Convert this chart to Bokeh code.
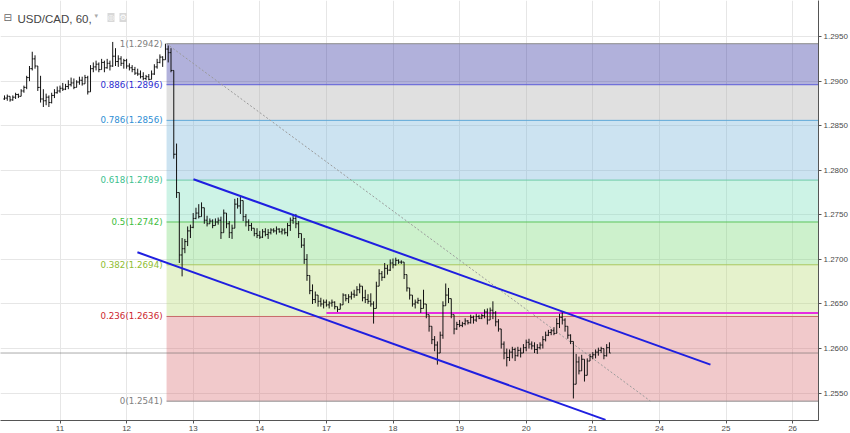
from bokeh.plotting import figure
from bokeh.models import Range1d, FixedTicker, Label, NumeralTickFormatter
from bokeh.core.properties import value
from bokeh.embed import file_html
from bokeh.resources import INLINE

# ---------------- data ----------------
DAY_LABELS = ["11", "12", "13", "14", "17", "18", "19", "20", "21", "24", "25", "26"]
PRICE_TICKS = [1.2550, 1.2600, 1.2650, 1.2700, 1.2750, 1.2800, 1.2850, 1.2900, 1.2950]

FIRST_HOUR = -20          # hourly bars, hour 0 = start of day "11"
OPEN0 = 1.2880

HIGH = [
    1.2884, 1.2885, 1.2883, 1.2884, 1.2887, 1.2886, 1.2891, 1.2895, 1.2906, 1.2917,
    1.2933, 1.2929, 1.2916, 1.2906, 1.2891, 1.2886, 1.2884, 1.2887, 1.2891, 1.2894,
    1.2895, 1.2898, 1.2897, 1.2901, 1.2904, 1.2903, 1.2901, 1.2905, 1.2905, 1.2907,
    1.2906, 1.2918, 1.2921, 1.2923, 1.2921, 1.2925, 1.2923, 1.2925, 1.2923, 1.2944,
    1.2937, 1.2929, 1.2928, 1.2925, 1.2925, 1.2920, 1.2918, 1.2916, 1.2914, 1.2912,
    1.2910, 1.2907, 1.2908, 1.2912, 1.2919, 1.2925, 1.2930, 1.2928, 1.2942, 1.2940,
    1.2937, 1.2903, 1.2830, 1.2769, 1.2724, 1.2723, 1.2737, 1.2739, 1.2752, 1.2758,
    1.2762, 1.2764, 1.2751, 1.2749, 1.2746, 1.2745, 1.2746, 1.2747, 1.2748, 1.2756,
    1.2751, 1.2743, 1.2739, 1.2768, 1.2769, 1.2770, 1.2758, 1.2751, 1.2745, 1.2741,
    1.2735, 1.2735, 1.2732, 1.2734, 1.2735, 1.2734, 1.2735, 1.2735, 1.2737, 1.2735,
    1.2735, 1.2735, 1.2741, 1.2747, 1.2751, 1.2751, 1.2743, 1.2728, 1.2724, 1.2706,
    1.2679, 1.2672, 1.2664, 1.2659, 1.2657, 1.2655, 1.2655, 1.2653, 1.2655, 1.2653,
    1.2647, 1.2651, 1.2662, 1.2661, 1.2661, 1.2664, 1.2666, 1.2670, 1.2673, 1.2664,
    1.2666, 1.2661, 1.2662, 1.2653, 1.2675, 1.2689, 1.2687, 1.2696, 1.2694, 1.2700,
    1.2701, 1.2702, 1.2700, 1.2699, 1.2696, 1.2679, 1.2666, 1.2655, 1.2655, 1.2657,
    1.2655, 1.2666, 1.2647, 1.2636, 1.2625, 1.2614, 1.2608, 1.2619, 1.2653, 1.2673,
    1.2668, 1.2656, 1.2636, 1.2630, 1.2632, 1.2630, 1.2634, 1.2632, 1.2638, 1.2637,
    1.2639, 1.2638, 1.2639, 1.2644, 1.2645, 1.2646, 1.2653, 1.2642, 1.2633, 1.2621,
    1.2608, 1.2600, 1.2599, 1.2602, 1.2601, 1.2602, 1.2601, 1.2605, 1.2610, 1.2611,
    1.2608, 1.2607, 1.2605, 1.2607, 1.2614, 1.2619, 1.2621, 1.2622, 1.2624, 1.2634,
    1.2639, 1.2642, 1.2634, 1.2623, 1.2616, 1.2608, 1.2594, 1.2591, 1.2593, 1.2588,
    1.2589, 1.2594, 1.2596, 1.2599, 1.2601, 1.2602, 1.2600, 1.2605, 1.2607,
]
LOW = [
    1.2879, 1.2878, 1.2877, 1.2878, 1.2880, 1.2881, 1.2884, 1.2887, 1.2891, 1.2900,
    1.2912, 1.2914, 1.2889, 1.2876, 1.2871, 1.2873, 1.2871, 1.2875, 1.2881, 1.2886,
    1.2887, 1.2889, 1.2890, 1.2891, 1.2894, 1.2891, 1.2893, 1.2896, 1.2895, 1.2898,
    1.2885, 1.2889, 1.2910, 1.2912, 1.2910, 1.2914, 1.2910, 1.2914, 1.2912, 1.2916,
    1.2917, 1.2916, 1.2917, 1.2914, 1.2914, 1.2912, 1.2910, 1.2907, 1.2906, 1.2903,
    1.2901, 1.2901, 1.2901, 1.2902, 1.2907, 1.2914, 1.2920, 1.2916, 1.2925, 1.2921,
    1.2910, 1.2813, 1.2769, 1.2696, 1.2681, 1.2707, 1.2715, 1.2724, 1.2735, 1.2745,
    1.2746, 1.2749, 1.2740, 1.2737, 1.2740, 1.2735, 1.2740, 1.2739, 1.2723, 1.2730,
    1.2735, 1.2724, 1.2723, 1.2746, 1.2757, 1.2751, 1.2743, 1.2737, 1.2732, 1.2732,
    1.2726, 1.2724, 1.2723, 1.2724, 1.2726, 1.2723, 1.2728, 1.2730, 1.2728, 1.2730,
    1.2728, 1.2728, 1.2726, 1.2732, 1.2740, 1.2735, 1.2724, 1.2713, 1.2695, 1.2676,
    1.2661, 1.2650, 1.2651, 1.2647, 1.2647, 1.2645, 1.2647, 1.2645, 1.2647, 1.2644,
    1.2641, 1.2644, 1.2650, 1.2653, 1.2651, 1.2655, 1.2657, 1.2659, 1.2662, 1.2653,
    1.2651, 1.2650, 1.2647, 1.2628, 1.2655, 1.2672, 1.2676, 1.2679, 1.2683, 1.2687,
    1.2690, 1.2693, 1.2695, 1.2695, 1.2678, 1.2664, 1.2655, 1.2647, 1.2645, 1.2650,
    1.2640, 1.2645, 1.2634, 1.2619, 1.2605, 1.2597, 1.2582, 1.2600, 1.2611, 1.2653,
    1.2651, 1.2634, 1.2616, 1.2621, 1.2624, 1.2624, 1.2626, 1.2627, 1.2628, 1.2628,
    1.2630, 1.2633, 1.2633, 1.2634, 1.2627, 1.2634, 1.2633, 1.2625, 1.2619, 1.2600,
    1.2588, 1.2580, 1.2586, 1.2589, 1.2586, 1.2591, 1.2590, 1.2595, 1.2597, 1.2600,
    1.2599, 1.2595, 1.2594, 1.2599, 1.2600, 1.2608, 1.2614, 1.2615, 1.2615, 1.2619,
    1.2623, 1.2627, 1.2619, 1.2611, 1.2605, 1.2544, 1.2563, 1.2571, 1.2582, 1.2563,
    1.2572, 1.2586, 1.2588, 1.2589, 1.2592, 1.2595, 1.2588, 1.2591, 1.2595,
]
CLOSE = [
    1.2881, 1.2883, 1.2879, 1.2882, 1.2885, 1.2883, 1.2889, 1.2893, 1.2904, 1.2914,
    1.2925, 1.2917, 1.2893, 1.2880, 1.2878, 1.2882, 1.2876, 1.2884, 1.2887, 1.2889,
    1.2892, 1.2891, 1.2894, 1.2896, 1.2898, 1.2893, 1.2899, 1.2901, 1.2897, 1.2904,
    1.2888, 1.2914, 1.2916, 1.2919, 1.2913, 1.2921, 1.2915, 1.2920, 1.2917, 1.2928,
    1.2922, 1.2925, 1.2920, 1.2923, 1.2917, 1.2915, 1.2913, 1.2909, 1.2908, 1.2905,
    1.2903, 1.2905, 1.2902, 1.2908, 1.2916, 1.2921, 1.2927, 1.2924, 1.2936, 1.2932,
    1.2912, 1.2818, 1.2775, 1.2705, 1.2712, 1.2720, 1.2732, 1.2736, 1.2746, 1.2752,
    1.2748, 1.2758, 1.2744, 1.2740, 1.2743, 1.2738, 1.2742, 1.2744, 1.2730, 1.2752,
    1.2740, 1.2730, 1.2735, 1.2762, 1.2760, 1.2766, 1.2748, 1.2742, 1.2738, 1.2735,
    1.2729, 1.2727, 1.2725, 1.2731, 1.2728, 1.2730, 1.2733, 1.2732, 1.2734, 1.2731,
    1.2733, 1.2730, 1.2738, 1.2744, 1.2746, 1.2740, 1.2729, 1.2716, 1.2700, 1.2682,
    1.2665, 1.2655, 1.2660, 1.2653, 1.2650, 1.2652, 1.2649, 1.2651, 1.2652, 1.2647,
    1.2644, 1.2649, 1.2660, 1.2656, 1.2658, 1.2661, 1.2660, 1.2666, 1.2670, 1.2657,
    1.2655, 1.2653, 1.2650, 1.2645, 1.2670, 1.2684, 1.2680, 1.2690, 1.2688, 1.2696,
    1.2694, 1.2699, 1.2697, 1.2697, 1.2683, 1.2668, 1.2660, 1.2650, 1.2652, 1.2654,
    1.2645, 1.2650, 1.2638, 1.2625, 1.2610, 1.2604, 1.2595, 1.2615, 1.2648, 1.2660,
    1.2656, 1.2638, 1.2622, 1.2627, 1.2626, 1.2628, 1.2631, 1.2629, 1.2635, 1.2632,
    1.2636, 1.2634, 1.2637, 1.2641, 1.2632, 1.2643, 1.2640, 1.2630, 1.2622, 1.2605,
    1.2595, 1.2590, 1.2596, 1.2599, 1.2592, 1.2598, 1.2595, 1.2601, 1.2607, 1.2605,
    1.2603, 1.2599, 1.2601, 1.2604, 1.2610, 1.2615, 1.2618, 1.2620, 1.2617, 1.2628,
    1.2635, 1.2632, 1.2625, 1.2615, 1.2608, 1.2560, 1.2585, 1.2575, 1.2588, 1.2570,
    1.2586, 1.2591, 1.2593, 1.2596, 1.2598, 1.2600, 1.2592, 1.2601, 1.2595,
]

FIB_RATIOS = ["1", "0.886", "0.786", "0.618", "0.5", "0.382", "0.236", "0"]
FIB_PRICES = [1.2942, 1.2896, 1.2856, 1.2789, 1.2742, 1.2694, 1.2636, 1.2541]
FIB_START_HOUR = 38.4
FIB_TREND_END_HOUR = 212.8

UPPER_CHANNEL_HOURS = [48.1, 234.4]
UPPER_CHANNEL_PRICES = [1.2790, 1.2582]
LOWER_CHANNEL_HOURS = [27.9, 196.6]
LOWER_CHANNEL_PRICES = [1.2708, 1.2520]

ALERT_PRICE = 1.2640
ALERT_START_HOUR = 96.0
LAST_PRICE = 1.2595

# ---------------- styling / layout ----------------
FIB_FILL = ["#202098", "#a6a6a6", "#6dafd7", "#70ddb8", "#70d76d", "#b5da6d", "#d7656a"]
FIB_LINE = ["#8c8c8c", "#5a5ad8", "#5fa8d8", "#6fcca8", "#5cc45c", "#a9c85f", "#c86a6a", "#8c8c8c"]
FIB_TEXT = ["#7f7f7f", "#2c2cd0", "#2e8ed4", "#3dbf8e", "#3dbd3d", "#8fbd30", "#cc1f2e", "#7f7f7f"]

PX_PER_HOUR = 66.6 / 24
PX_PER_UNIT = 8892.5
FRAME_W = 818
FRAME_H = 419
X0 = -59.5 / PX_PER_HOUR
X1 = X0 + FRAME_W / PX_PER_HOUR
Y1 = 1.2950 + 36 / PX_PER_UNIT
Y0 = Y1 - FRAME_H / PX_PER_UNIT

n = len(CLOSE)
assert len(HIGH) == n and len(LOW) == n
hours = [FIRST_HOUR + i for i in range(n)]
opens = [OPEN0] + CLOSE[:-1]
highs = [max(h, o, c) for h, o, c in zip(HIGH, opens, CLOSE)]
lows = [min(l, o, c) for l, o, c in zip(LOW, opens, CLOSE)]

p = figure(width=850, height=433, x_range=Range1d(X0, X1), y_range=Range1d(Y0, Y1),
           output_backend="svg", toolbar_location=None, y_axis_location="right",
           min_border_left=0, min_border_top=0, min_border_right=0, min_border_bottom=0)
p.outline_line_color = None
p.background_fill_color = "white"
p.border_fill_color = "white"

# axes
ax = p.xaxis[0]
ax.ticker = FixedTicker(ticks=[24 * i for i in range(len(DAY_LABELS))])
ax.major_label_overrides = {24 * i: d for i, d in enumerate(DAY_LABELS)}
ay = p.yaxis[0]
ay.ticker = FixedTicker(ticks=PRICE_TICKS)
ay.formatter = NumeralTickFormatter(format="0.0000")
for a in (ax, ay):
    a.axis_line_color = "#555555"
    a.major_tick_line_color = "#555555"
    a.major_tick_out = 3
    a.major_tick_in = 0
    a.minor_tick_line_color = None
    a.major_label_text_font = "Liberation Sans"
    a.major_label_text_font_size = "8px"
    a.major_label_text_color = "#4a4a4a"
    a.major_label_standoff = 2
p.xgrid.grid_line_color = "#e6e6e6"
p.ygrid.grid_line_color = "#e6e6e6"

# fib zones
p.quad(left=[FIB_START_HOUR] * 7, right=[X1] * 7, top=FIB_PRICES[:-1], bottom=FIB_PRICES[1:],
       fill_color=FIB_FILL, fill_alpha=0.35, line_color=None)
p.segment(x0=[FIB_START_HOUR] * 8, x1=[X1] * 8, y0=FIB_PRICES, y1=FIB_PRICES,
          line_color=FIB_LINE, line_width=1)
p.text(x=[FIB_START_HOUR] * 8, y=FIB_PRICES,
       text=[f"{r}({v:.4f})" for r, v in zip(FIB_RATIOS, FIB_PRICES)],
       text_color=FIB_TEXT, text_align="right", text_baseline="middle",
       text_font=value("DejaVu Sans"), text_font_size="8.7px", x_offset=-4)
p.line([FIB_START_HOUR, FIB_TREND_END_HOUR], [FIB_PRICES[0], FIB_PRICES[-1]],
       line_color="#9a9a9a", line_dash="2 2", line_width=1)

# last price / alert lines
p.segment(x0=[X0], x1=[X1], y0=[LAST_PRICE], y1=[LAST_PRICE],
          line_color="#555555", line_dash="1 1", line_width=1)
p.segment(x0=[ALERT_START_HOUR], x1=[X1], y0=[ALERT_PRICE], y1=[ALERT_PRICE],
          line_color="#e62ee0", line_width=2)

# OHLC bars
p.segment(x0=hours, x1=hours, y0=lows, y1=highs, line_color="#111111", line_width=1)
p.segment(x0=[h - 0.45 for h in hours], x1=hours, y0=opens, y1=opens, line_color="#111111", line_width=1)
p.segment(x0=hours, x1=[h + 0.45 for h in hours], y0=CLOSE, y1=CLOSE, line_color="#111111", line_width=1)

# channel
p.line(UPPER_CHANNEL_HOURS, UPPER_CHANNEL_PRICES, line_color="#1f1fe0", line_width=2)
p.line(LOWER_CHANNEL_HOURS, LOWER_CHANNEL_PRICES, line_color="#1f1fe0", line_width=2)

# price tags on axis
p.add_layout(Label(x=X1, y=ALERT_PRICE, x_offset=1, text="1.2640", text_color="white",
                   text_font="Liberation Sans", text_font_size="8.5px", text_baseline="middle",
                   background_fill_color="#ff00ff"))
p.add_layout(Label(x=X1, y=LAST_PRICE, x_offset=1, text="1.2595", text_color="white",
                   text_font="Liberation Sans", text_font_size="8.5px", text_baseline="middle",
                   background_fill_color="#000000"))

# title
p.add_layout(Label(x=X0, y=Y1, x_offset=3, y_offset=-17, text="⊟",
                   text_color="#666666", text_font="DejaVu Sans", text_font_size="10px",
                   text_baseline="alphabetic"))
p.add_layout(Label(x=X0, y=Y1, x_offset=17, y_offset=-18, text="USD/CAD, 60,",
                   text_color="#444444", text_font="Liberation Sans", text_font_size="11.5px",
                   text_baseline="alphabetic"))
p.add_layout(Label(x=X0, y=Y1, x_offset=94, y_offset=-15, text="▾",
                   text_color="#aaaaaa", text_font="DejaVu Sans", text_font_size="7px",
                   text_baseline="alphabetic"))
p.add_layout(Label(x=X0, y=Y1, x_offset=107, y_offset=-17, text="◎",
                   text_color="white", text_font="DejaVu Sans", text_font_size="8px",
                   text_baseline="alphabetic", background_fill_color="#d8d8d8"))
p.add_layout(Label(x=X0, y=Y1, x_offset=119, y_offset=-17, text="⚙",
                   text_color="white", text_font="DejaVu Sans", text_font_size="8px",
                   text_baseline="alphabetic", background_fill_color="#d8d8d8"))

open("out.html", "w").write(file_html(p, INLINE))
